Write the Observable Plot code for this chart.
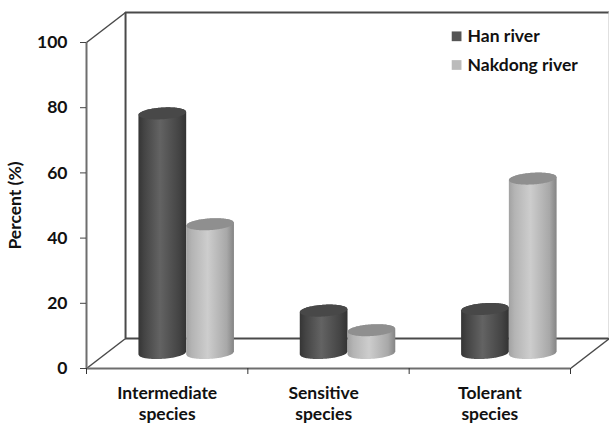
<!DOCTYPE html>
<html>
<head>
<meta charset="utf-8">
<script src="https://cdn.jsdelivr.net/npm/d3@7"></script>
<script src="https://cdn.jsdelivr.net/npm/@observablehq/plot@0.6"></script>
<style>
  html, body { margin: 0; padding: 0; background: #fff; }
  svg { display: block; }
</style>
</head>
<body>
<div id="chart"></div>
<script>
// Share of fish species by tolerance guild in two Korean rivers
const categories = ["Intermediate\nspecies", "Sensitive\nspecies", "Tolerant\nspecies"];
const hanRiver = [73.5, 13, 13.5];
const nakdongRiver = [39.5, 7, 53.5];
const yTicks = [0, 20, 40, 60, 80, 100];
const seriesNames = ["Han river", "Nakdong river"];

// Oblique 3-D box: how far the back wall sits from the front plane, in data units
const depthX = 0.242;
const depthY = 9.2;
const xMax = categories.length;
const yMax = 100;

// Cylinder shape, in data units
const halfWidth = 0.148;
const rimHeight = 1.8;
const rimTilt = 0.45;
const steps = d3.range(-1, 1.0001, 0.04);

const rimOffset = (u, side) => rimTilt * u + side * rimHeight * Math.sqrt(Math.max(0, 1 - u * u));

function cylinders(values, shift) {
  return values.flatMap((value, i) => steps.map((u) => ({
    bar: i,
    x: i + 0.5 + depthX / 2 + shift + u * halfWidth,
    baseLow: depthY / 2 + rimOffset(u, -1),
    topHigh: value + depthY / 2 + rimOffset(u, 1),
    topLow: value + depthY / 2 + rimOffset(u, -1)
  })));
}

const han = cylinders(hanRiver, -halfWidth);
const nakdong = cylinders(nakdongRiver, halfWidth);

// Horizontal shading of the cylinder bodies
function gradients() {
  const defs = d3.create("svg:defs");
  const stops = {
    hanBody: [[0, "#353535"], [0.12, "#444"], [0.45, "#636363"], [0.85, "#444"], [1, "#333"]],
    nakdongBody: [[0, "#a2a2a2"], [0.12, "#b4b4b4"], [0.45, "#cdcdcd"], [0.85, "#a8a8a8"], [1, "#848484"]]
  };
  for (const [id, list] of Object.entries(stops)) {
    const g = defs.append("linearGradient").attr("id", id);
    for (const [o, c] of list) g.append("stop").attr("offset", o).attr("stop-color", c);
  }
  return defs.node();
}

const wall = "#4a4a4a";
const floor = "#6e6e6e";

const legendX = 2.294;
const legendY = [101.9, 93.1];

const chart = Plot.plot({
  width: 609,
  height: 423,
  marginLeft: 86,
  marginRight: 39,
  marginTop: 42,
  marginBottom: 55,
  x: {type: "linear", domain: [0, xMax]},
  y: {domain: [0, yMax]},
  style: {fontFamily: "Lato", fontWeight: "bold", fontSize: "17.5px", color: "#111", background: "#fff"},
  marks: [
    gradients,

    // Back wall, floor and side edges
    Plot.ruleX([depthX], {y1: depthY, y2: yMax + depthY, stroke: wall, strokeWidth: 2}),
    Plot.ruleY([yMax + depthY], {x1: depthX, x2: xMax + depthX, stroke: wall, strokeWidth: 2}),
    Plot.ruleY([depthY], {x1: depthX, x2: xMax + depthX, stroke: wall, strokeWidth: 2}),
    Plot.ruleX([xMax + depthX - 0.004], {y1: depthY, y2: yMax + depthY, stroke: "#ccc", strokeWidth: 1}),
    Plot.link([
      {x1: 0, y1: yMax, x2: depthX, y2: yMax + depthY},
      {x1: 0, y1: 0, x2: depthX, y2: depthY},
      {x1: xMax, y1: 0, x2: xMax + depthX, y2: depthY}
    ], {x1: "x1", y1: "y1", x2: "x2", y2: "y2", stroke: wall, strokeWidth: 1.5}),

    // Front axes
    Plot.ruleX([0], {y1: 0, y2: yMax, stroke: floor, strokeWidth: 2}),
    Plot.ruleY([0], {x1: 0, x2: xMax, stroke: floor, strokeWidth: 2}),
    Plot.axisY({ticks: yTicks, tickSize: 6, tickPadding: 13, stroke: "#444", label: "Percent (%)", labelAnchor: "center", labelOffset: 78, labelArrow: "none"}),
    Plot.axisX({ticks: d3.range(xMax + 1), tickSize: 6, tickFormat: () => "", stroke: "#333", label: null}),

    // Category labels, two lines each
    Plot.text(categories, {
      x: [0.5, 1.47, 2.5],
      frameAnchor: "bottom",
      lineAnchor: "top",
      dy: 16,
      lineHeight: 1.2,
      fill: "#111"
    }),

    // Han river cylinders
    Plot.areaY(han, {x: "x", y1: "baseLow", y2: "topHigh", z: "bar", fill: "url(#hanBody)"}),
    Plot.areaY(han, {x: "x", y1: "topLow", y2: "topHigh", z: "bar", fill: "#484848"}),

    // Nakdong river cylinders sit in front of the Han ones
    Plot.areaY(nakdong, {x: "x", y1: "baseLow", y2: "topHigh", z: "bar", fill: "url(#nakdongBody)"}),
    Plot.areaY(nakdong, {x: "x", y1: "topLow", y2: "topHigh", z: "bar", fill: "#8f8f8f"}),

    // Legend
    Plot.dot(seriesNames, {x: legendX, y: legendY, symbol: "square", r: 5.5, fill: ["#555", "#bbb"]}),
    Plot.text(seriesNames, {x: legendX, y: legendY, dx: 11, textAnchor: "start", fill: "#111"})
  ]
});

document.getElementById("chart").append(chart);
</script>
</body>
</html>
